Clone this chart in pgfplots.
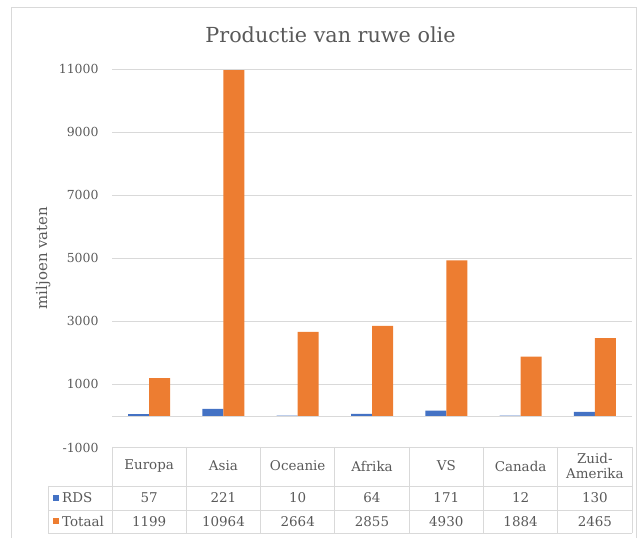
\documentclass[border=0pt]{standalone}
\usepackage{pgfplots}
\pgfplotsset{compat=1.18}
\usepackage{fontspec}
\setmainfont{DejaVu Serif}
\definecolor{rdsblue}{HTML}{4472C4}
\definecolor{totorange}{HTML}{ED7D31}
\definecolor{gridgray}{HTML}{D9D9D9}
\definecolor{txtgray}{HTML}{595959}
\begin{document}
\begin{tikzpicture}[x=1bp,y=1bp]
\path[use as bounding box] (0,0) rectangle (637,538);
\draw[gridgray, line width=1bp] (11,-2) -- (11,530) -- (636,530) -- (636,-2);
\node[anchor=base, text=txtgray, font=\fontsize{20.8}{24}\selectfont] at (330.5,495) {Productie van ruwe olie};
\node[rotate=90, text=txtgray, font=\fontsize{15}{17}\selectfont] at (43,280) {miljoen vaten};
\begin{axis}[
  at={(112bp,90.5bp)}, anchor=south west,
  scale only axis, width=520bp, height=378.5bp,
  ybar=0pt, bar width=21bp,
  xmin=-0.5, xmax=6.5, ymin=-1000, ymax=11000,
  xtick=\empty,
  ytick={-1000,1000,3000,5000,7000,9000,11000},
  scaled y ticks=false,
  /pgf/number format/assume math mode=true,
  /pgf/number format/1000 sep={},
  yticklabel style={font=\fontsize{12.5}{14}\selectfont, text=txtgray, xshift=-10bp},
  major tick length=0pt,
  axis line style={draw=none},
  ymajorgrids, grid style={gridgray, line width=0.8bp},
  clip=false,
]
\addplot[fill=rdsblue, draw=none] coordinates {(0,57) (1,221) (2,10) (3,64) (4,171) (5,12) (6,130)};
\addplot[fill=totorange, draw=none] coordinates {(0,1199) (1,10964) (2,2664) (3,2855) (4,4930) (5,1884) (6,2465)};
\draw[gridgray, line width=0.8bp] (axis cs:-0.5,0) -- (axis cs:6.5,0);
\end{axis}
% data table
\begin{scope}[gridgray, line width=0.8bp]
\draw (112,91) -- (632,91);
\draw (48,52) -- (632,52);
\draw (48,28) -- (632,28);
\draw (48,5) -- (632,5);
\draw (48,52) -- (48,5);
\foreach \k in {0,...,7} { \draw (112+74.2857*\k,91) -- (112+74.2857*\k,5); }
\end{scope}
\begin{scope}[text=txtgray, font=\fontsize{13.5}{15}\selectfont]
\foreach \n [count=\i from 0] in {Europa,Asia,Oceanie,Afrika,VS,Canada}
  { \node at (149.14+74.2857*\i,72) {\n}; }
\node[align=center, font=\fontsize{13.5}{14.5}\selectfont] at (149.14+74.2857*6,72) {Zuid-\\Amerika};
\foreach \v [count=\i from 0] in {57,221,10,64,171,12,130}
  { \node at (149.14+74.2857*\i,40) {\v}; }
\foreach \v [count=\i from 0] in {1199,10964,2664,2855,4930,1884,2465}
  { \node at (149.14+74.2857*\i,16.5) {\v}; }
\fill[rdsblue] (53,37) rectangle (59,43);
\node[anchor=west, inner sep=0pt] at (62,40) {RDS};
\fill[totorange] (53,13.5) rectangle (59,19.5);
\node[anchor=west, inner sep=0pt] at (62,16.5) {Totaal};
\end{scope}
\end{tikzpicture}
\end{document}
